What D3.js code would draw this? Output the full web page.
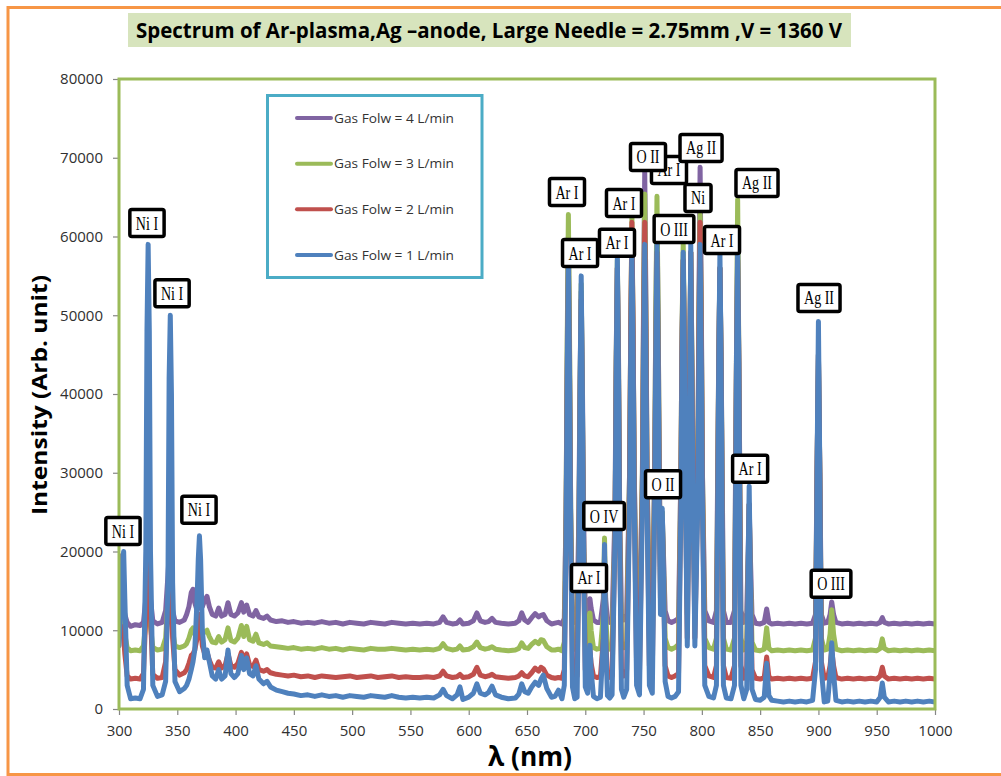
<!DOCTYPE html>
<html><head><meta charset="utf-8">
<script src="https://cdn.jsdelivr.net/npm/d3@7"></script>
<style>body{margin:0;background:#fff;} svg{display:block;}</style>
</head><body>
<svg id="chart" width="1001" height="776"></svg>
<script>
// ---------------- DATA ----------------
const wavelengths = [300,302,303,304,305,307,310,314,318,321,
323,324,325,326,327,329,333,337,340,342,
343,344,345,346,348,352,356,358,360,362,
363.5,365,367,368,369,370,371.5,373.5,375.5,377.5,
380,383,385.5,388,391,393.5,396,399,402,405,
407,409.5,412,415,417.5,420,424,427,430,435,
440,445,450,456,462,468,474,480,486,492,
498,504,510,516,522,528,534,540,546,552,
558,564,570,575,578,581,586,590,592.5,595,
600,604,607,610,614,617,620,623,628,634,
640,643,645.5,648,651,654,657,660,662,664,
667,671,674,677,680,682,683.5,684.5,685.5,686.5,
687.5,689,691,693,694.5,695.5,696.5,697.5,698.5,700,
702,703,704,705,707,710,713,715.5,716.5,717.5,
719,721,723,725.5,726.5,727.5,728.5,729.5,731,733,
735.5,738,739,740,741,742,744,746.5,749,750,
751,752,753,755,757.5,759.5,760.5,761.5,762.5,763.5,
764.5,765.5,766,767,768.5,771,774,777,780,782,
783,784,785,786,787.5,789,789.8,790.5,791.2,792.5,
794,796.5,797.5,798.5,799.5,800.5,802.5,806,810,812.5,
814.5,815.5,816.5,818.5,821,825,828,829.7,830.7,831.7,
833.5,836,838.5,839.7,840.6,841.5,843,846,850,853.5,
855.6,857.5,860,865,870,875,880,885,890,895,
897.5,898.8,900,901.2,902.5,905,908,910,911.4,913,
915,920,925,930,935,940,945,950,953,954.8,
956.5,960,965,970,975,980,985,990,995,1000];

// Gas flow = 4 L/min (purple)
const flow4 = [19500,16000,14000,13000,12000,11000,10500,10700,10600,11000,
14000,20000,24000,19000,14000,11200,10800,11000,12500,17000,
19500,18000,15000,12500,11200,11000,11300,12000,13000,14800,
15200,13500,12500,13000,13500,13200,13000,13800,14300,13000,
12000,11800,12800,11800,12000,13500,12000,11800,12200,13500,
12300,13200,12000,11800,12500,11700,11500,11800,11300,11100,
11200,11000,11100,10900,11000,10900,11100,10900,11000,10800,
11000,10900,10800,11000,10900,10800,11000,10900,10800,10900,
10800,10900,10800,11000,11700,11000,10800,10900,11300,10800,
10900,11200,12200,11200,11000,11100,11500,11000,10900,10800,
10900,11200,12200,11300,11000,11600,12100,11700,11900,12000,
11200,10800,10900,11000,10800,11500,25000,45000,60000,45000,
25000,12000,11000,11200,25000,42000,53000,42000,25000,12000,
11500,12800,14000,12800,11300,11000,11000,14000,19500,14000,
11200,11000,11200,25000,45000,56000,45000,25000,12000,11300,
12000,30000,48000,60000,48000,30000,12500,11500,30000,52000,
68200,52000,30000,12500,11800,30000,50000,62000,50000,30000,
18000,22000,25000,20000,12500,11200,11000,11200,11500,30000,
48000,57000,48000,30000,14000,30000,48000,58000,48000,30000,
14000,30000,52000,68800,52000,30000,12500,11200,11000,12500,
45000,56000,45000,12500,11000,11000,12500,45000,60000,45000,
12500,11000,12000,20000,26000,20000,12000,10900,10800,11000,
12700,11000,10800,10900,10800,10900,10800,10900,10800,10900,
12000,30000,45000,30000,12000,10900,11000,12000,13600,12000,
11000,10800,10900,10800,10900,10800,10900,10800,11000,11600,
11000,10800,10900,10800,10900,10800,10900,10800,10900,10800];

// Gas flow = 3 L/min (green)
const flow3 = [13000,12500,12000,11000,9500,7800,7400,7500,7400,8000,
11000,16000,20000,15000,10500,7800,7500,7600,9000,14000,
17000,16000,13000,10000,8000,7800,8000,8300,9000,10000,
10300,9500,9200,10000,10500,10000,9500,9800,10000,9200,
8500,8400,9200,8500,8800,10300,8700,8500,9000,10600,
9200,10500,8800,8600,9500,8400,8200,8400,8000,7900,
7800,7700,7800,7600,7700,7600,7800,7600,7700,7500,
7700,7600,7500,7700,7600,7600,7700,7600,7500,7600,
7500,7600,7500,7700,8300,7700,7500,7600,8000,7500,
7600,7900,8500,7800,7600,7700,7900,7600,7500,7400,
7500,7700,8400,7800,7700,8200,8600,8300,8800,8700,
7900,7500,7500,7600,7400,8500,25000,47000,62800,47000,
25000,8500,7600,7800,22000,40000,54000,40000,22000,8500,
8000,10000,12200,10000,7800,7600,7700,12000,21700,12000,
7800,7600,7800,23000,44000,57000,44000,23000,8500,7800,
8500,30000,48000,62500,48000,30000,9000,8000,30000,50000,
65400,50000,30000,9000,8200,30000,50000,65100,50000,30000,
16000,22000,25000,19000,9000,7800,7600,7800,8200,30000,
48000,59000,48000,30000,12000,30000,48000,58000,48000,30000,
12000,30000,50000,62800,50000,30000,9000,7800,7600,9000,
45000,56000,45000,9000,7600,7500,9000,45000,64700,45000,
9000,7500,8500,18000,26000,18000,8500,7500,7400,7600,
10300,7700,7400,7500,7400,7500,7400,7500,7400,7500,
9000,30000,45000,30000,9000,7500,7600,9500,12600,9500,
7600,7400,7500,7400,7500,7400,7500,7400,7700,8900,
7700,7400,7500,7400,7500,7400,7500,7400,7500,7400];

// Gas flow = 2 L/min (red)
const flow2 = [10000,10500,10000,9000,7000,4200,3800,3900,3800,4500,
12000,26000,36000,26000,12000,4400,3900,4000,6000,13000,
19000,21500,15000,9000,5000,4300,4600,5000,5800,6800,
7000,7500,9000,11000,12000,10500,8000,7000,7200,6200,
5300,5200,6000,5200,5500,7000,5500,5300,5800,7200,
6000,7000,5600,5400,6200,5000,4800,5000,4600,4400,
4300,4200,4300,4100,4200,4000,4200,4100,4000,4100,
4200,4000,4100,4200,4000,4100,4200,4000,4100,4000,
4000,4100,4000,4200,4800,4200,4000,4100,4400,4000,
4100,4400,5300,4300,4100,4200,4400,4100,4000,3900,
4000,4200,4600,4200,4100,4600,5200,4800,5300,5100,
4300,4000,3900,4000,3900,5000,22000,42000,56000,42000,
22000,5000,4000,4200,20000,38000,52000,38000,20000,5000,
4400,5800,7500,5800,4200,4000,4100,9000,19000,9000,
4200,4000,4200,22000,42000,56000,42000,22000,5000,4200,
5000,28000,48000,61800,48000,28000,5500,4500,28000,48000,
61800,48000,28000,5500,4600,28000,45000,58000,45000,28000,
14000,21000,24000,18000,5500,4200,4000,4200,4500,28000,
46000,57000,46000,28000,9000,28000,46000,58000,46000,28000,
9000,28000,48000,61800,48000,28000,5500,4200,4000,5500,
44000,56000,44000,5500,4000,3900,5500,44000,57000,44000,
5500,3900,5000,17000,26000,17000,5000,3900,3800,4000,
6600,4100,3800,3900,3800,3900,3800,3900,3800,3900,
6000,30000,45000,30000,6000,3900,4000,5500,7500,5500,
4000,3800,3900,3800,3900,3800,3900,3800,4200,5300,
4200,3800,3900,3800,3900,3800,3900,3800,3900,3800];

// Gas flow = 1 L/min (blue)
const flow1 = [8000,14000,18500,20000,14000,3000,1300,1400,1300,2500,
20000,48000,59000,48000,20000,3000,1600,1800,3500,16000,
42000,50000,40000,16000,3500,2200,2600,3000,3800,5000,
6000,7500,14000,19000,22000,19000,10000,6500,7500,6000,
4200,3800,5000,3800,4200,7500,4500,4000,4500,6800,
5000,6500,4500,4200,5500,3800,3200,3500,2800,2400,
2200,2000,1900,1700,1800,1600,1800,1600,1700,1500,
1700,1600,1500,1700,1600,1500,1700,1500,1400,1500,
1400,1500,1400,1800,2500,1700,1300,1800,2800,1200,
1500,2000,3200,2000,1800,2100,2900,1800,1500,1300,
1400,1900,3200,2200,2000,2800,3400,3000,3800,4300,
2600,1500,1600,2400,1300,3000,22000,42000,57000,42000,
22000,2800,1300,1500,20000,40000,55000,40000,20000,2800,
2000,5000,8100,5000,1600,1300,1500,9000,20900,9000,
1700,1400,1800,22000,42000,57500,42000,22000,2500,1500,
2500,26000,45000,59000,45000,26000,3000,1800,26000,45000,
59000,45000,26000,3000,2000,26000,45000,59000,45000,26000,
12000,22000,25500,18000,3500,1600,1400,1600,2200,26000,
45000,58000,45000,26000,8000,26000,45000,59000,45000,26000,
8000,26000,45000,59000,45000,26000,3000,1600,1400,3000,
44000,58000,44000,3000,1400,1300,3000,44000,58000,44000,
3000,1300,2500,18000,28300,18000,2500,1200,1100,1500,
5800,1700,1100,1000,900,1000,900,1000,900,1100,
5000,30000,49200,30000,5000,900,1000,4500,8400,4500,
1100,900,1000,900,1000,900,1000,900,1500,3300,
1500,900,1000,900,1000,900,1000,900,1000,900];

const seriesNames = ["Gas Folw = 4 L/min", "Gas Folw = 3 L/min", "Gas Folw = 2 L/min", "Gas Folw = 1 L/min"];
const seriesColors = ["#8064A2", "#9BBB59", "#C0504D", "#4F81BD"];

const xTicks = [300,350,400,450,500,550,600,650,700,750,800,850,900,950,1000];
const yTicks = [0,10000,20000,30000,40000,50000,60000,70000,80000];

// Peak annotations (label, wavelength nm, intensity where the box sits)
const labelTexts = ["Ar I","Ni I","Ni I","Ni I","Ni I","Ar I","Ar I","Ar I","Ar I","O II","Ag II","Ni","O III","Ar I","Ag II","Ag II","O IV","Ar I","O II","Ar I","O III"];
const labelWl    = [771.8,303.4,324.0,345.5,368.6,684.3,727.2,695.5,733.2,753.8,799.3,796.7,776.1,817.3,847.3,900.5,716.1,703.2,766.7,841.4,910.8];
const labelInt   = [68450,22600,61700,52800,25300,65650,59200,57900,64250,70100,71250,64900,60950,59550,66800,52200,24500,16650,28550,30500,15900];

const titleText = "Spectrum of Ar-plasma,Ag \u2013anode, Large Needle = 2.75mm ,V = 1360 V";
const xTitle = "\u03BB (nm)";
const yTitle = "Intensity (Arb. unit)";

// ---------------- DRAW ----------------
const svg = d3.select("#chart");
const plot = {left: 119, top: 79, right: 935, bottom: 709};
const x = d3.scaleLinear().domain([300, 1000]).range([plot.left, plot.right]);
const y = d3.scaleLinear().domain([0, 80000]).range([plot.bottom, plot.top]);

svg.append("rect").attr("width", 1001).attr("height", 776).attr("fill", "#fff");
// outer orange frame
svg.append("rect").attr("x", 8).attr("y", 7.5).attr("width", 1020).attr("height", 767)
  .attr("fill", "none").attr("stroke", "#F79646").attr("stroke-width", 3);

// title
svg.append("rect").attr("x", 128).attr("y", 13).attr("width", 723).attr("height", 34).attr("fill", "#D7E4BD");
svg.append("text").attr("x", 489).attr("y", 37.5).attr("text-anchor", "middle")
  .attr("font-family", "'Liberation Sans Narrow', 'Open Sans', sans-serif").attr("font-weight", "bold")
  .attr("font-size", 22).attr("fill", "#000").attr("textLength", 706).attr("lengthAdjust", "spacingAndGlyphs")
  .text(titleText);

// clip
svg.append("defs").append("clipPath").attr("id", "clip").append("rect")
  .attr("x", plot.left).attr("y", plot.top).attr("width", plot.right - plot.left).attr("height", plot.bottom - plot.top);

// series
const allSeries = [flow4, flow3, flow2, flow1];
const line = d3.line().x((d, i) => x(wavelengths[i])).y(d => y(d));
const gLines = svg.append("g").attr("clip-path", "url(#clip)");
allSeries.forEach((s, k) => {
  gLines.append("path").datum(s).attr("d", line).attr("fill", "none")
    .attr("stroke", seriesColors[k]).attr("stroke-width", 5)
    .attr("stroke-linejoin", "round").attr("stroke-linecap", "round");
});

// axes
const tickFont = "'Open Sans', 'Liberation Sans', sans-serif";
const gx = svg.append("g").attr("transform", `translate(0,${plot.bottom})`)
  .call(d3.axisBottom(x).tickValues(xTicks).tickSize(6).tickFormat(d3.format("d")));
gx.select(".domain").remove();
gx.selectAll(".tick line").attr("stroke", "#868686").attr("stroke-width", 1.2);
gx.selectAll(".tick text").attr("y", 27).attr("dy", 0).attr("font-family", tickFont)
  .attr("font-size", 15).attr("fill", "#303030");

const gy = svg.append("g").attr("transform", `translate(${plot.left},0)`)
  .call(d3.axisLeft(y).tickValues(yTicks).tickSize(6).tickPadding(10).tickFormat(d3.format("d")));
gy.select(".domain").remove();
gy.selectAll(".tick line").attr("stroke", "#868686").attr("stroke-width", 1.2);
gy.selectAll(".tick text").attr("font-family", tickFont).attr("font-size", 15).attr("fill", "#303030");

// plot border
svg.append("rect").attr("x", plot.left).attr("y", plot.top).attr("width", plot.right - plot.left)
  .attr("height", plot.bottom - plot.top).attr("fill", "none").attr("stroke", "#9BBB59").attr("stroke-width", 3);

// axis titles
svg.append("text").attr("transform", "translate(47,395) rotate(-90)").attr("text-anchor", "middle")
  .attr("font-family", "'Open Sans', sans-serif").attr("font-weight", "bold").attr("font-size", 22)
  .attr("textLength", 240).attr("lengthAdjust", "spacingAndGlyphs").text(yTitle);
svg.append("text").attr("x", 530).attr("y", 766).attr("text-anchor", "middle")
  .attr("font-family", "'Open Sans', sans-serif").attr("font-weight", "bold").attr("font-size", 26)
  .attr("textLength", 84).attr("lengthAdjust", "spacingAndGlyphs").text(xTitle);

// legend
const lg = svg.append("g");
lg.append("rect").attr("x", 267.5).attr("y", 95.5).attr("width", 214.5).attr("height", 182)
  .attr("fill", "#fff").attr("stroke", "#4BACC6").attr("stroke-width", 3);
const legendY = d3.scalePoint().domain(seriesNames).range([118, 255]);
seriesNames.forEach((n, k) => {
  const yy = legendY(n);
  lg.append("line").attr("x1", 297).attr("x2", 331).attr("y1", yy).attr("y2", yy)
    .attr("stroke", seriesColors[k]).attr("stroke-width", 4).attr("stroke-linecap", "round");
  lg.append("text").attr("x", 334).attr("y", yy + 4.5).attr("font-family", "'Open Sans', sans-serif")
    .attr("font-size", 13).attr("fill", "#333").attr("textLength", 120).attr("lengthAdjust", "spacingAndGlyphs").text(n);
});

// annotations
const ag = svg.append("g");
labelTexts.forEach((t, i) => {
  const cx = x(labelWl[i]), cy = y(labelInt[i]);
  const g = ag.append("g").attr("transform", `translate(${cx},${cy})`);
  const rect = g.append("rect");
  const txt = g.append("text").attr("text-anchor", "middle").attr("y", 6.5)
    .attr("font-family", "'Liberation Serif', 'DejaVu Serif', serif").attr("font-size", 19).attr("fill", "#000")
    .attr("transform", "scale(0.74,1)").text(t);
  const w = txt.node().getComputedTextLength() * 0.74 + 12;
  rect.attr("x", -w / 2).attr("y", -13.5).attr("width", w).attr("height", 27).attr("rx", 2)
    .attr("fill", "#fff").attr("stroke", "#000").attr("stroke-width", 3.5);
});
</script>
</body></html>
